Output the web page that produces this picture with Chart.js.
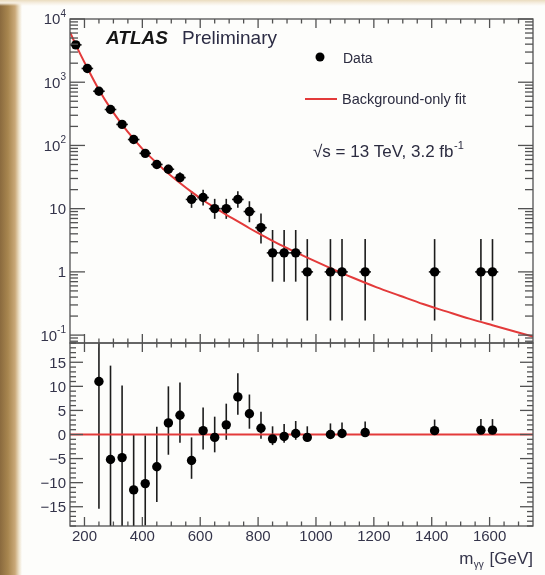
<!DOCTYPE html>
<html>
<head>
<meta charset="utf-8">
<script src="https://cdn.jsdelivr.net/npm/chart.js@4.4.0/dist/chart.umd.min.js"></script>
<style>
  html, body { margin: 0; padding: 0; }
  body { width: 545px; height: 575px; position: relative; overflow: hidden; background: #fdfdfb; }
  #strip-left { position: absolute; left: 0; top: 0; width: 22px; height: 575px;
    background: linear-gradient(to right, #8a6a3e 0px, #a8864f 8px, #c9a878 15px, #ece0c8 19px, #fdfdfb 22px); }
  #strip-top { position: absolute; left: 0; top: 0; width: 545px; height: 6px;
    background: linear-gradient(to bottom, #eadcbf 0px, #f6efe2 3px, rgba(253,253,251,0) 6px); }
  canvas { position: absolute; left: 0; top: 0; }
</style>
</head>
<body>
<div id="strip-left"></div>
<div id="strip-top"></div>
<canvas id="ratio-chart" width="545" height="575"></canvas>
<canvas id="main-chart" width="545" height="575"></canvas>
<script>
// ---- values ----
const binCentres   = [170, 210, 250, 290, 330, 370, 410, 450, 490, 530, 570, 610, 650, 690, 730, 770, 810, 850, 890, 930, 970, 1050, 1090, 1170, 1410, 1570, 1610];
const eventCounts  = [3900, 1650, 720, 370, 215, 124, 75, 50, 42, 31, 14, 15, 10, 10, 14, 9, 5, 2, 2, 2, 1, 1, 1, 1, 1, 1, 1];
const countErrUp   = [63, 41, 27, 20, 15, 12, 9.7, 8.1, 7.5, 6.6, 4.8, 4.9, 4.3, 4.3, 4.8, 4.1, 3.4, 2.6, 2.6, 2.6, 2.3, 2.3, 2.3, 2.3, 2.3, 2.3, 2.3];
const countErrDown = [62, 40, 26, 19, 14.5, 11, 8.6, 7.1, 6.5, 5.5, 3.7, 3.8, 3.1, 3.1, 3.7, 2.9, 2.2, 1.3, 1.3, 1.3, 0.83, 0.83, 0.83, 0.83, 0.83, 0.83, 0.83];
const binHalfWidth = 20;

const fitMass   = [150, 170, 210, 250, 290, 330, 370, 410, 450, 490, 530, 570, 610, 650, 690, 730, 770, 810, 850, 890, 930, 970, 1050, 1130, 1210, 1290, 1370, 1450, 1530, 1610, 1690, 1750];
const fitValues = [6200, 3900, 1680, 760, 385, 214, 127, 79, 52.5, 36, 25.5, 18.4, 13.6, 10.4, 8.0, 6.3, 4.9, 3.9, 3.1, 2.5, 2.05, 1.68, 1.15, 0.80, 0.57, 0.42, 0.31, 0.237, 0.182, 0.143, 0.113, 0.095];

const residualMass    = [250, 290, 330, 370, 410, 450, 490, 530, 570, 610, 650, 690, 730, 770, 810, 850, 890, 930, 970, 1050, 1090, 1170, 1410, 1570, 1610];
const residualValues  = [11, -5.2, -4.8, -11.5, -10.2, -6.7, 2.4, 4.0, -5.4, 0.8, -0.6, 2.0, 7.8, 4.3, 1.3, -0.9, -0.4, 0.2, -0.6, 0.0, 0.2, 0.4, 0.8, 0.9, 0.9];
const residualErrUp   = [27, 19.5, 15, 11.5, 10, 8.3, 7.6, 6.8, 4.8, 4.8, 4.3, 4.4, 4.9, 4.0, 3.4, 2.6, 2.6, 2.6, 2.3, 2.3, 2.3, 2.3, 2.3, 2.3, 2.3];
const residualErrDown = [26.4, 19.3, 14.7, 11.1, 8.7, 7.3, 6.6, 5.7, 3.8, 3.9, 3.1, 3.1, 3.7, 3.1, 2.2, 1.3, 1.3, 1.3, 0.83, 0.83, 0.83, 0.83, 0.83, 0.83, 0.83];
const zeroLineMass    = [150, 1750];
const zeroLineValues  = [0, 0];

const xTickValues   = [200, 400, 600, 800, 1000, 1200, 1400, 1600];
const logTickValues = [0.1, 1, 10, 100, 1000, 10000];
const logTickBase   = ['10', '1', '10', '10', '10', '10'];
const logTickExp    = ['-1', '', '', '2', '3', '4'];
const resTickValues = [15, 10, 5, 0, -5, -10, -15];
const resTickLabels = ['15', '10', '5', '0', '\u22125', '\u221210', '\u221215'];

// ---- styling ----
const RED = '#e33a3a';
const INK = '#1c1c1c';
const AXIS = '#525252';
const LABEL = '#34344a';
const FONT = '"Liberation Sans", Arial, Helvetica, sans-serif';

function xy(xs, ys) { return xs.map((x, i) => ({ x: x, y: ys[i] })); }

function segment(ctx, x1, y1, x2, y2) {
    ctx.beginPath(); ctx.moveTo(x1, y1); ctx.lineTo(x2, y2); ctx.stroke();
}

// vertical (and optional horizontal) error bars, under the markers
function errorBars(xs, ys, up, down, halfWidth) {
    return {
        id: 'errorBars',
        beforeDatasetsDraw(chart) {
            const ctx = chart.ctx, a = chart.chartArea, sx = chart.scales.x, sy = chart.scales.y;
            ctx.save();
            ctx.beginPath(); ctx.rect(a.left, a.top, a.right - a.left, a.bottom - a.top); ctx.clip();
            ctx.strokeStyle = INK; ctx.lineWidth = 1.6;
            xs.forEach((x, i) => {
                const px = sx.getPixelForValue(x);
                segment(ctx, px, sy.getPixelForValue(ys[i] + up[i]), px, sy.getPixelForValue(ys[i] - down[i]));
                if (halfWidth) {
                    const py = sy.getPixelForValue(ys[i]);
                    segment(ctx, sx.getPixelForValue(x - halfWidth), py, sx.getPixelForValue(x + halfWidth), py);
                }
            });
            ctx.restore();
        }
    };
}

// ROOT-style frame: ticks pointing inwards on all four sides
function frame(yTicks) {
    return {
        id: 'frame',
        afterDatasetsDraw(chart) {
            const ctx = chart.ctx, a = chart.chartArea, sx = chart.scales.x, sy = chart.scales.y;
            ctx.save();
            ctx.strokeStyle = AXIS; ctx.lineWidth = 1.3;
            ctx.strokeRect(a.left, a.top, a.right - a.left, a.bottom - a.top);
            for (let v = 200; v < 1750; v += 50) {
                const px = sx.getPixelForValue(v), len = v % 200 === 0 ? 9 : 4.5;
                segment(ctx, px, a.top, px, a.top + len);
                segment(ctx, px, a.bottom, px, a.bottom - len);
            }
            yTicks.forEach(t => {
                const py = sy.getPixelForValue(t.v);
                segment(ctx, a.left, py, a.left + t.len, py);
                segment(ctx, a.right, py, a.right - t.len, py);
            });
            ctx.restore();
        }
    };
}

// log axis ticks: decades long, 2..9 short
const logTicks = [];
[-2, -1, 0, 1, 2, 3].forEach(d => {
    for (let k = 1; k <= 9; k++) {
        const v = k * Math.pow(10, d);
        if (v >= 0.075 && v <= 10000) logTicks.push({ v: v, len: k === 1 ? 15 : 8 });
    }
});
logTicks.push({ v: 10000, len: 15 });

const resTicks = [];
for (let v = -19; v <= 19; v++) resTicks.push({ v: v, len: v % 5 === 0 ? 13 : 6 });

const mainLabels = {
    id: 'mainLabels',
    afterDraw(chart) {
        const ctx = chart.ctx, sy = chart.scales.y;
        ctx.save();
        ctx.fillStyle = LABEL;
        // y tick labels with exponents
        logTickValues.forEach((v, i) => {
            const py = sy.getPixelForValue(v);
            const right = 66;
            ctx.font = '10px ' + FONT;
            const expW = logTickExp[i] ? ctx.measureText(logTickExp[i]).width : 0;
            if (logTickExp[i]) {
                ctx.textAlign = 'left';
                ctx.fillText(logTickExp[i], right - expW, py - 2);
            }
            ctx.font = '15px ' + FONT;
            ctx.textAlign = 'right';
            ctx.fillText(logTickBase[i], right - expW, py + 5.4);
        });

        // ATLAS Preliminary
        ctx.textAlign = 'left';
        ctx.fillStyle = '#161616';
        ctx.font = 'italic bold 19px ' + FONT;
        ctx.fillText('ATLAS', 106, 44);
        ctx.fillStyle = '#2c2c44';
        ctx.font = '19px ' + FONT;
        ctx.fillText('Preliminary', 182, 44);

        // legend
        ctx.fillStyle = '#000';
        ctx.beginPath(); ctx.arc(320, 57, 4.5, 0, 2 * Math.PI); ctx.fill();
        ctx.strokeStyle = RED; ctx.lineWidth = 2;
        segment(ctx, 305, 99, 337, 99);
        ctx.fillStyle = '#2c2c40';
        ctx.font = '14px ' + FONT;
        ctx.fillText('Data', 343, 63);
        ctx.font = '14.5px ' + FONT;
        ctx.fillText('Background-only fit', 342, 104);

        // sqrt(s) and luminosity
        ctx.font = '17px ' + FONT;
        const txt = '\u221As = 13 TeV, 3.2 fb';
        ctx.fillText(txt, 313, 157);
        const w = ctx.measureText(txt).width;
        ctx.font = '11px ' + FONT;
        ctx.fillText('-1', 313 + w + 0.5, 149);
        ctx.restore();
    }
};

const ratioLabels = {
    id: 'ratioLabels',
    afterDraw(chart) {
        const ctx = chart.ctx, sx = chart.scales.x, sy = chart.scales.y, a = chart.chartArea;
        ctx.save();
        ctx.fillStyle = LABEL;
        ctx.font = '15px ' + FONT;
        ctx.textAlign = 'right';
        resTickValues.forEach((v, i) => ctx.fillText(resTickLabels[i], 66, sy.getPixelForValue(v) + 5.4));
        ctx.textAlign = 'center';
        xTickValues.forEach(v => ctx.fillText(String(v), sx.getPixelForValue(v), a.bottom + 14.5));

        // axis title m_yy [GeV]
        ctx.textAlign = 'right';
        ctx.font = '17px ' + FONT;
        const unit = ' [GeV]';
        ctx.fillText(unit, a.right, 564);
        const uw = ctx.measureText(unit).width;
        ctx.font = '10px ' + FONT;
        ctx.fillText('\u03B3\u03B3', a.right - uw - 1, 568);
        const gw = ctx.measureText('\u03B3\u03B3').width;
        ctx.font = '17px ' + FONT;
        ctx.fillText('m', a.right - uw - gw - 1.5, 564);
        ctx.restore();
    }
};

const commonOptions = (padding, yScale) => ({
    responsive: false,
    animation: false,
    devicePixelRatio: 1,
    layout: { padding: padding },
    plugins: { legend: { display: false }, tooltip: { enabled: false } },
    scales: {
        x: { type: 'linear', min: 150, max: 1750, display: false },
        y: yScale
    }
});

// upper panel: data and background-only fit
new Chart(document.getElementById('main-chart').getContext('2d'), {
    type: 'scatter',
    data: {
        datasets: [{
            label: 'Data',
            data: xy(binCentres, eventCounts),
            pointRadius: 4.7,
            pointBackgroundColor: '#000',
            pointBorderWidth: 0
        }, {
            label: 'Background-only fit',
            data: xy(fitMass, fitValues),
            showLine: true,
            borderColor: RED,
            borderWidth: 2,
            pointRadius: 0,
            cubicInterpolationMode: 'monotone'
        }]
    },
    options: commonOptions({ left: 70, top: 19, right: 12, bottom: 232 },
        { type: 'logarithmic', min: 0.075, max: 10000, display: false }),
    plugins: [errorBars(binCentres, eventCounts, countErrUp, countErrDown, binHalfWidth), frame(logTicks), mainLabels]
});

// lower panel: data minus fit
new Chart(document.getElementById('ratio-chart').getContext('2d'), {
    type: 'scatter',
    data: {
        datasets: [{
            label: 'Data - fit',
            data: xy(residualMass, residualValues),
            pointRadius: 4.7,
            pointBackgroundColor: '#000',
            pointBorderWidth: 0
        }, {
            label: 'zero',
            data: xy(zeroLineMass, zeroLineValues),
            showLine: true,
            borderColor: RED,
            borderWidth: 2,
            pointRadius: 0
        }]
    },
    options: commonOptions({ left: 70, top: 343, right: 12, bottom: 49 },
        { type: 'linear', min: -19, max: 19, display: false }),
    plugins: [errorBars(residualMass, residualValues, residualErrUp, residualErrDown, 0), frame(resTicks), ratioLabels]
});
</script>
</body>
</html>
